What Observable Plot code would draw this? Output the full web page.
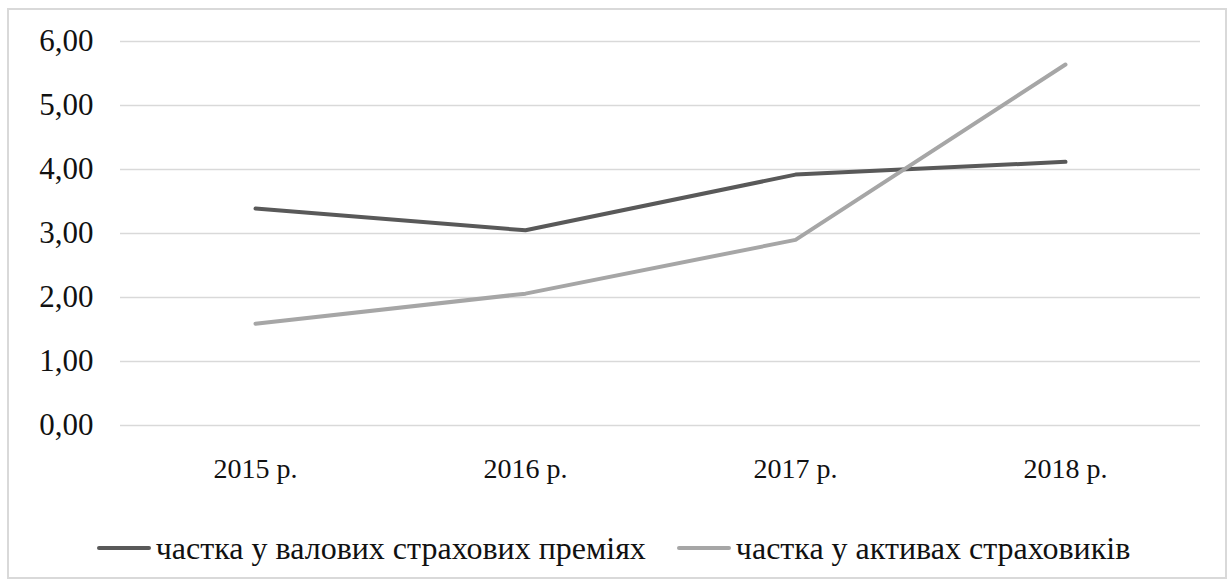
<!DOCTYPE html>
<html>
<head>
<meta charset="utf-8">
<script src="https://cdn.jsdelivr.net/npm/d3@7"></script>
<script src="https://cdn.jsdelivr.net/npm/@observablehq/plot@0.6"></script>
<style>
  html, body { margin: 0; padding: 0; background: #fff; }
  #frame { position: absolute; left: 7px; top: 8px; width: 1220px; height: 571px;
           border: 2px solid #d9d9d9; box-sizing: border-box; }
  #chart { position: absolute; left: 0; top: 0; }
  #legend { position: absolute; left: 0; top: 520px; width: 1227px; height: 56px;
            display: flex; justify-content: center; align-items: center; gap: 31px;
            font-family: "Liberation Serif", "LiberationSerif", Tinos, "Times New Roman", "DejaVu Serif", serif;
            font-size: 32px; color: #111; }
  .item { display: flex; align-items: center; white-space: nowrap; }
  .sw { width: 54px; height: 4px; border-radius: 2px; margin-right: 5px; }
</style>
</head>
<body>
<div id="frame"></div>
<div id="chart"></div>
<div id="legend"></div>
<script>
// Years on the category axis
const years = ["2015 р.", "2016 р.", "2017 р.", "2018 р."];
// Share in gross insurance premiums, %
const premiumsShare = [3.39, 3.05, 3.92, 4.12];
// Share in insurers' assets, %
const assetsShare = [1.59, 2.06, 2.90, 5.64];
// Value axis ticks
const yTicks = [0, 1, 2, 3, 4, 5, 6];
const seriesNames = ["частка у валових страхових преміях", "частка у активах страховиків"];
const seriesColors = ["#595959", "#a6a6a6"];

const rows = (vals) => years.map((year, i) => ({year, value: vals[i]}));
const fmt = (d) => d.toFixed(2).replace(".", ",");
const lineStyle = {x: "year", y: "value", strokeWidth: 4, strokeLinecap: "round", strokeLinejoin: "round"};
const serif = '"Liberation Serif", "LiberationSerif", Tinos, "Times New Roman", "DejaVu Serif", serif';

const chart = Plot.plot({
  width: 1227,
  height: 500,
  marginLeft: 120,
  marginRight: 27,
  marginTop: 41,
  marginBottom: 75,
  style: {fontFamily: serif, color: "#111", background: "transparent"},
  x: {type: "point", domain: years, padding: 0.5, label: null},
  y: {domain: [0, 6], label: null},
  marks: [
    Plot.gridY(yTicks, {stroke: "#d9d9d9", strokeOpacity: 1, strokeWidth: 1.5}),
    Plot.axisY(yTicks, {tickSize: 0, tickPadding: 27, fontSize: 31, tickFormat: fmt, label: null}),
    Plot.axisX({tickSize: 0, tickPadding: 33, fontSize: 28, label: null}),
    Plot.line(rows(premiumsShare), {...lineStyle, stroke: seriesColors[0]}),
    Plot.line(rows(assetsShare), {...lineStyle, stroke: seriesColors[1]})
  ]
});
document.getElementById("chart").append(chart);

const legend = document.getElementById("legend");
seriesNames.forEach((name, i) => {
  const item = document.createElement("div");
  item.className = "item";
  const sw = document.createElement("span");
  sw.className = "sw";
  sw.style.background = seriesColors[i];
  const label = document.createElement("span");
  label.textContent = name;
  item.append(sw, label);
  legend.append(item);
});
</script>
</body>
</html>
